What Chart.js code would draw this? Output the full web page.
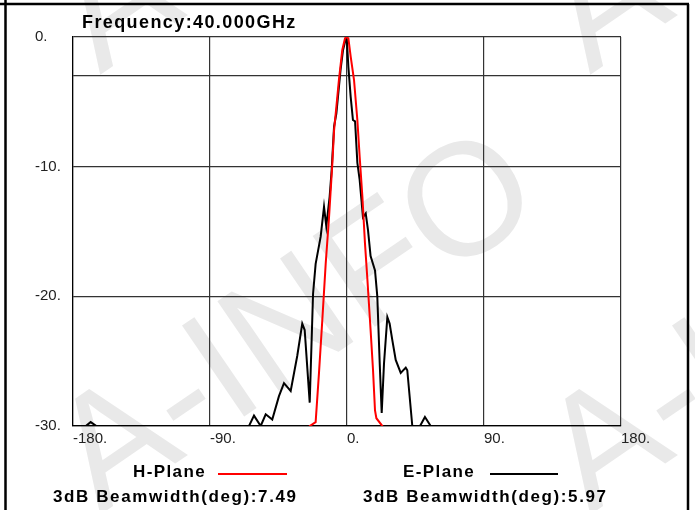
<!DOCTYPE html>
<html>
<head>
<meta charset="utf-8">
<script src="https://cdn.jsdelivr.net/npm/chart.js@4.4.1/dist/chart.umd.min.js"></script>
<style>
  html, body { margin: 0; padding: 0; background: #fff; }
</style>
</head>
<body>
<canvas id="pattern" width="695" height="510"></canvas>
<script>
// 40 GHz pattern cuts, dB vs angle (deg)
const xTicks = [-180, -90, 0, 90, 180];
const yTicks = [-30, -20, -10, -3, 0];

// H-plane (red)
const hAngle = [-28, -24.5, -20.6, -18.4, -16.2, -14.0, -11.8, -9.6, -8.5, -7.0, -5.3, -3.1, -1.3, -0.4,
  0.9, 2.4, 4.6, 6.8, 8.3, 10.1, 11.8, 13.4, 15.5, 17.1, 18.4, 19.3, 23.2, 26];
const hLevel = [-32, -30, -29.7, -25.9, -21.8, -17.5, -13.9, -9.7, -7.2, -5.4, -3.3, -1.0, -0.1, 0,
  -0.1, -1.5, -3.3, -6.4, -9.2, -12.3, -15.9, -18.7, -22.6, -25.7, -28.8, -29.4, -30, -32];

// E-plane (black)
const eAngle = [-176, -171.6, -168.4, -164.6, -161, -68, -64.4, -61.1, -56.7, -53.4, -49.1, -44.7, -41.4, -37.0,
  -32.7, -29.4, -27.8, -24.5, -22.3, -20.6, -17.3, -15.1, -13.6, -11.4, -10.1, -8.5, -7.0, -4.2,
  -2.6, -0.9, -0.2, 0.9, 2.4, 3.9, 5.3, 6.8, 8.3, 10.5, 12.3, 13.8, 15.5, 18.4, 19.9, 21.5,
  22.8, 24.3, 26.5, 28.0, 29.8, 32.0, 35.3, 38.6, 39.6, 42.9, 45, 48, 51.2, 55, 58];
const eLevel = [-32, -30, -29.7, -30, -32, -32, -30, -29.2, -30, -29.1, -29.5, -27.7, -26.7, -27.3,
  -24.6, -22.1, -22.6, -28.2, -19.8, -17.5, -15.4, -13.1, -14.6, -12.3, -10.3, -6.9, -5.9, -2.5,
  -1.0, -0.2, 0, -2.3, -4.6, -6.4, -6.5, -9.7, -11.0, -13.9, -13.6, -14.9, -16.9, -18.0, -20.0, -25.2,
  -29.0, -25.2, -21.6, -22.1, -23.4, -24.9, -25.9, -25.5, -25.7, -30, -31, -30, -29.3, -30, -32];

const seriesNames = ["H-Plane", "E-Plane"];
const beamwidths = ["7.49", "5.97"];
const freqLabel = "Frequency:40.000GHz";

const FONT = "'Liberation Sans', Arial, sans-serif";

const toPoints = (xs, ys) => xs.map((x, i) => ({ x: x, y: ys[i] }));

const framePlugin = {
  id: "frame",
  beforeDraw(chart) {
    const ctx = chart.ctx;
    ctx.save();
    ctx.fillStyle = "#fff";
    ctx.fillRect(0, 0, chart.width, chart.height);
    // watermark
    ctx.fillStyle = "#e9e9e9";
    ctx.font = "160px " + FONT;
    [[100, 515], [100, 75], [590, 515], [590, 75]].forEach(([x, y]) => {
      ctx.save();
      ctx.translate(x, y);
      ctx.rotate(-0.6);
      ctx.fillText("A-INFO", 0, 0);
      ctx.restore();
    });
    ctx.restore();
  },
  afterDraw(chart) {
    const ctx = chart.ctx;
    ctx.save();
    // page border
    ctx.strokeStyle = "#000";
    ctx.lineWidth = 2.5;
    ctx.beginPath();
    ctx.moveTo(0, 4); ctx.lineTo(689, 4);
    ctx.moveTo(5.5, 0); ctx.lineTo(5.5, 510);
    ctx.moveTo(688, 4); ctx.lineTo(688, 510);
    ctx.stroke();

    ctx.fillStyle = "#000";
    ctx.textBaseline = "alphabetic";
    ctx.font = "bold 18px " + FONT;
    ctx.letterSpacing = "1.4px";
    ctx.fillText(freqLabel, 82, 28);

    ctx.font = "bold 17px " + FONT;
    ctx.letterSpacing = "1.4px";
    ctx.fillText(seriesNames[0], 133, 477);
    ctx.fillText(seriesNames[1], 403, 477);
    ctx.letterSpacing = "1.6px";
    ctx.fillText("3dB Beamwidth(deg):" + beamwidths[0], 53, 502);
    ctx.fillText("3dB Beamwidth(deg):" + beamwidths[1], 363, 502);

    ctx.lineWidth = 2;
    ctx.strokeStyle = "#ff0000";
    ctx.beginPath(); ctx.moveTo(218, 474); ctx.lineTo(287, 474); ctx.stroke();
    ctx.strokeStyle = "#000";
    ctx.beginPath(); ctx.moveTo(490, 474); ctx.lineTo(558, 474); ctx.stroke();
    ctx.restore();
  }
};

new Chart(document.getElementById("pattern"), {
  type: "line",
  data: {
    datasets: [
      {
        label: seriesNames[0],
        data: toPoints(hAngle, hLevel),
        borderColor: "#ff0000",
        borderWidth: 2,
        pointRadius: 0,
        tension: 0
      },
      {
        label: seriesNames[1],
        data: toPoints(eAngle, eLevel),
        borderColor: "#000000",
        borderWidth: 2,
        pointRadius: 0,
        tension: 0
      }
    ]
  },
  options: {
    responsive: false,
    animation: false,
    layout: { padding: { left: 35, top: 37, right: 74, bottom: 62 } },
    plugins: { legend: { display: false }, tooltip: { enabled: false } },
    scales: {
      x: {
        type: "linear",
        min: -180,
        max: 180,
        afterBuildTicks: (s) => { s.ticks = xTicks.map(v => ({ value: v })); },
        afterFit: (s) => { s.height = 22; },
        grid: { color: "#333", lineWidth: 1.2, drawTicks: false },
        border: { color: "#000", width: 1.2 },
        ticks: {
          align: "start",
          maxRotation: 0,
          padding: 4,
          color: "#222",
          font: { family: FONT, size: 15 },
          callback: (v) => v + "."
        }
      },
      y: {
        min: -30,
        max: 0,
        afterBuildTicks: (s) => { s.ticks = yTicks.map(v => ({ value: v })); },
        afterFit: (s) => { s.width = 38; },
        grid: { color: "#333", lineWidth: 1.2, drawTicks: false },
        border: { color: "#000", width: 1.2 },
        ticks: {
          crossAlign: "far",
          padding: 0,
          color: "#222",
          font: { family: FONT, size: 15 },
          callback: (v) => (v === -3 ? "" : v + ".")
        }
      }
    }
  },
  plugins: [framePlugin]
});
</script>
</body>
</html>
